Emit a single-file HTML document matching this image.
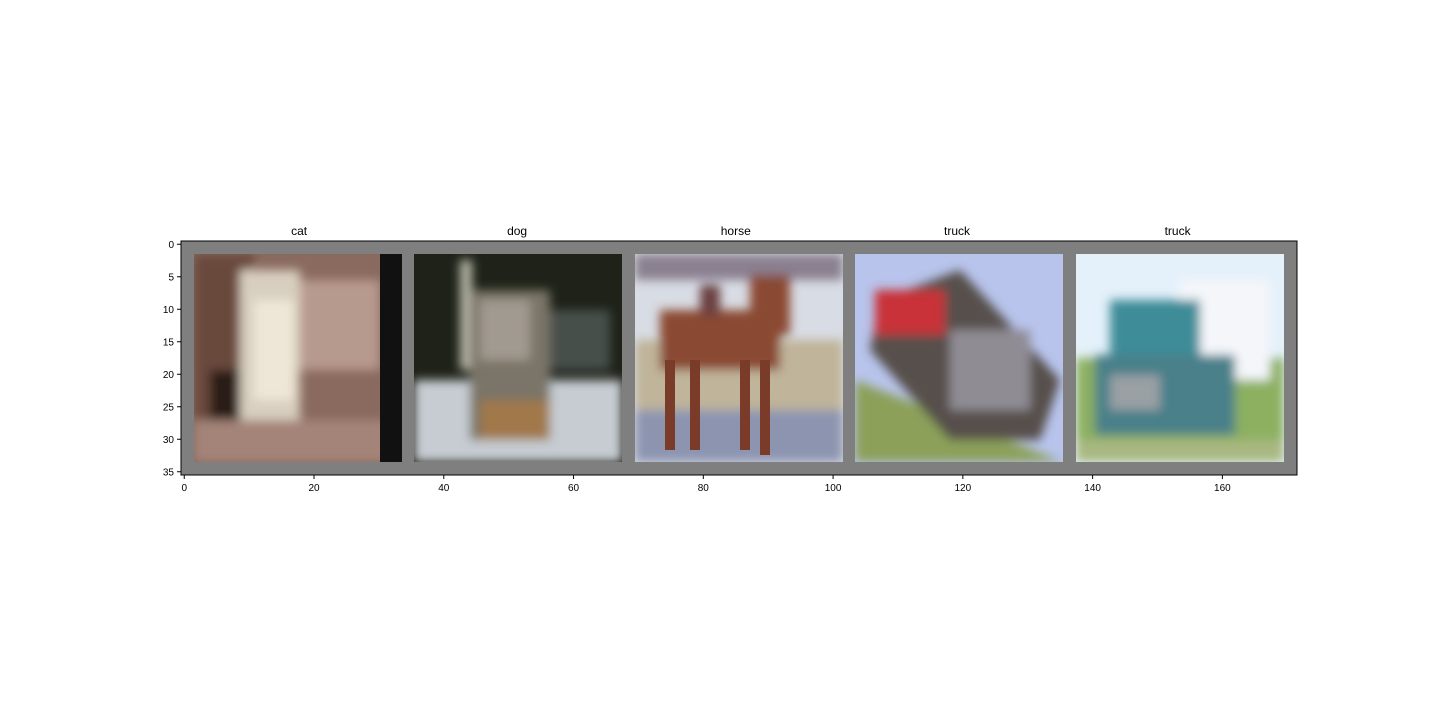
<!DOCTYPE html>
<html><head><meta charset="utf-8"><style>
body{margin:0;background:#fff;}
svg{display:block;font-family:"Liberation Sans","DejaVu Sans",sans-serif;}
</style></head><body>
<svg id="chart" width="1440" height="720">
<defs>
<filter id="bl" x="-10%" y="-10%" width="120%" height="120%"><feGaussianBlur stdDeviation="5"/></filter>
<clipPath id="c0"><rect x="194" y="254" width="208" height="208"/></clipPath>
<clipPath id="c1"><rect x="414" y="254" width="208" height="208"/></clipPath>
<clipPath id="c2"><rect x="635" y="254" width="208" height="208"/></clipPath>
<clipPath id="c3"><rect x="855" y="254" width="208" height="208"/></clipPath>
<clipPath id="c4"><rect x="1076" y="254" width="208" height="208"/></clipPath>
</defs>
<rect x="181" y="241" width="1116" height="234" fill="#7f7f7f"/>
<g clip-path="url(#c0)"><rect x="194" y="254" width="208" height="208" fill="#8a6a5e"/><g filter="url(#bl)">
<rect x="194" y="254" width="60" height="208" fill="#6b4a3e"/><rect x="300" y="280" width="80" height="90" fill="#b79a8e"/><rect x="240" y="270" width="60" height="160" fill="#d8cfc0"/><rect x="254" y="300" width="40" height="100" fill="#eee6d6"/><rect x="194" y="420" width="208" height="42" fill="#a48478"/><rect x="210" y="370" width="30" height="50" fill="#2a1a14"/></g><rect x="380" y="254" width="22" height="208" fill="#111"/></g>
<g clip-path="url(#c1)"><rect x="414" y="254" width="208" height="208" fill="#1e2218"/><g filter="url(#bl)">
<rect x="414" y="380" width="208" height="82" fill="#c6ccd2"/><rect x="460" y="260" width="12" height="110" fill="#b8b8a8"/><rect x="470" y="290" width="80" height="150" fill="#7a7468"/><rect x="480" y="300" width="50" height="60" fill="#a09a90"/><rect x="550" y="310" width="60" height="60" fill="#46504c"/><rect x="480" y="400" width="70" height="40" fill="#a0784a"/></g></g>
<g clip-path="url(#c2)"><rect x="635" y="254" width="208" height="208" fill="#d8dce4"/><g filter="url(#bl)">
<rect x="635" y="254" width="208" height="26" fill="#8a8090"/><rect x="635" y="340" width="208" height="70" fill="#c0b49a"/><rect x="635" y="410" width="208" height="52" fill="#8c94b0"/><rect x="660" y="310" width="120" height="60" fill="#8a4830"/><rect x="750" y="275" width="40" height="60" fill="#8a4830"/><rect x="700" y="285" width="20" height="30" fill="#6a4040"/></g>
<g fill="#7a3c28"><rect x="665" y="360" width="10" height="90"/><rect x="690" y="360" width="10" height="90"/><rect x="740" y="360" width="10" height="90"/><rect x="760" y="360" width="10" height="95"/></g></g>
<g clip-path="url(#c3)"><rect x="855" y="254" width="208" height="208" fill="#b8c4ec"/><g filter="url(#bl)">
<polygon points="855,380 1063,462 855,462" fill="#8ca05a"/><polygon points="880,300 960,270 1060,380 1040,440 950,440 870,350" fill="#56504c"/><rect x="875" y="290" width="70" height="45" fill="#c83038"/><rect x="950" y="330" width="80" height="80" fill="#908c94"/></g></g>
<g clip-path="url(#c4)"><rect x="1076" y="254" width="208" height="208" fill="#e4f0fa"/><g filter="url(#bl)">
<rect x="1076" y="358" width="208" height="104" fill="#8cb060"/><rect x="1180" y="280" width="90" height="100" fill="#f4f6fa"/><rect x="1110" y="300" width="90" height="60" fill="#3c8c98"/><rect x="1095" y="355" width="140" height="80" fill="#4a808a"/><rect x="1110" y="375" width="50" height="35" fill="#9aa0a4"/><rect x="1076" y="440" width="208" height="22" fill="#a8b880"/></g></g>
<rect x="181" y="241" width="1116" height="234" fill="none" stroke="#000" stroke-width="1"/>
<g id="axes"></g>
</svg>
<script>
const titles=["cat","dog","horse","truck","truck"];
const titleCenters=[17.7,51.3,85.0,119.1,153.1];
const xTicks=[0,20,40,60,80,100,120,140,160];
const yTicks=[0,5,10,15,20,25,30,35];
const X0=181,Y0=241,S=1116/172,SY=234/36;
const xs=u=>X0+(u+0.5)*S, ys=v=>Y0+(v+0.5)*SY;
const ns="http://www.w3.org/2000/svg", g=document.getElementById('axes');
function mk(t,a){const e=document.createElementNS(ns,t);for(const k in a)e.setAttribute(k,a[k]);g.appendChild(e);return e;}
xTicks.forEach(v=>{
 const l=mk('line',{x1:xs(v),x2:xs(v),y1:475,y2:479,stroke:'#000'});
 
 
 const t=mk('text',{x:xs(v),y:491,'text-anchor':'middle','font-size':'10'});t.textContent=v;
 
 
});
yTicks.forEach(v=>{
 const l=mk('line',{x1:177,x2:181,y1:ys(v),y2:ys(v),stroke:'#000'});
 
 
 const t=mk('text',{x:174,y:ys(v)+3.5,'text-anchor':'end','font-size':'10'});t.textContent=v;
 
 
});
titles.forEach((s,k)=>{
 const t=mk('text',{x:xs(titleCenters[k]),y:235,'text-anchor':'middle','font-size':'12'});t.textContent=s;
 
 
});
</script>
</body></html>
